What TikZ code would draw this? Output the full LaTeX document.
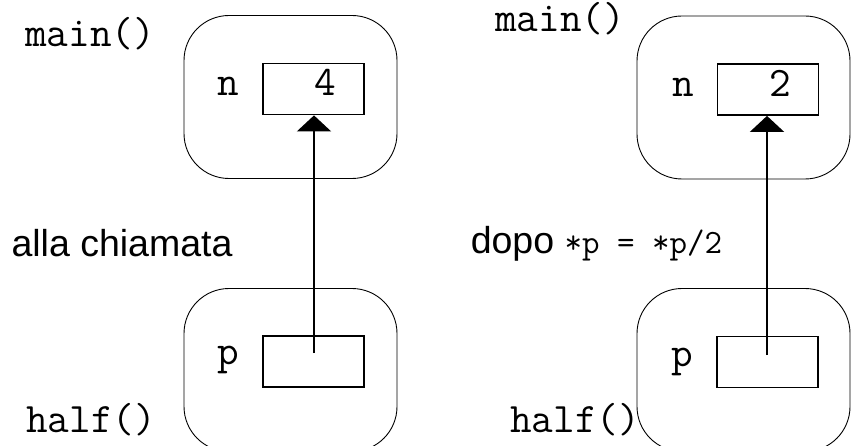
\documentclass[tikz,border=0pt]{standalone}
\usepackage{fontspec}
\setmainfont{Liberation Sans}
\usetikzlibrary{arrows.meta}
\tikzset{
  frame/.style={draw, line width=0.9pt, rounded corners=45pt, minimum width=213pt, minimum height=163pt, inner sep=0pt},
  cell/.style={draw, line width=1.8pt, minimum width=101pt, minimum height=51pt, inner sep=0pt},
  mono/.style={font=\fontsize{42}{44}\selectfont\ttfamily, inner sep=0pt, anchor=base},
  sans/.style={font=\fontsize{37.5}{42}\selectfont, inner sep=0pt, anchor=base},
  ptr/.style={line width=1.8pt, -{Triangle[width=34pt,length=16pt]}}
}
\begin{document}
\begin{tikzpicture}[x=1pt,y=-1pt]
\useasboundingbox (0,0) rectangle (853,446);
% left
\node[frame] (lmain) at (290.5,97) {};
\node[frame] (lhalf) at (290.5,370) {};
\node[cell] (ln) at (313.5,89) {};
\node[cell] (lp) at (313.5,361.5) {};
\node[mono] (lnl) at (228,96) {n};
\node[mono] (lnv) at (325,96) {4};
\node[mono] (lpl) at (228,364) {p};
\node[mono] (lmainl) at (90,47) {main()};
\node[mono] (lhalfl) at (91,432) {half()};
\node[sans] (lcap) at (122,256) {alla chiamata};
\coordinate (lpc) at (314,353);
\draw[ptr] (lpc) -- (lpc |- ln.south);
% right
\node[frame] (rmain) at (743.5,97.5) {};
\node[frame] (rhalf) at (743.5,370) {};
\node[cell] (rn) at (768,89.5) {};
\node[cell] (rp) at (767.5,362) {};
\node[mono] (rnl) at (683,97) {n};
\node[mono] (rnv) at (780,97) {2};
\node[mono] (rpl) at (682,366) {p};
\node[mono] (rmainl) at (560,32) {main()};
\node[mono] (rhalfl) at (575,432) {half()};
\node[sans] (rcap) at (596.5,253) {dopo {\fontsize{34}{38}\selectfont\ttfamily *p = *p/2}};
\coordinate (rpc) at (767,355);
\draw[ptr] (rpc) -- (rpc |- rn.south);
\end{tikzpicture}
\end{document}
